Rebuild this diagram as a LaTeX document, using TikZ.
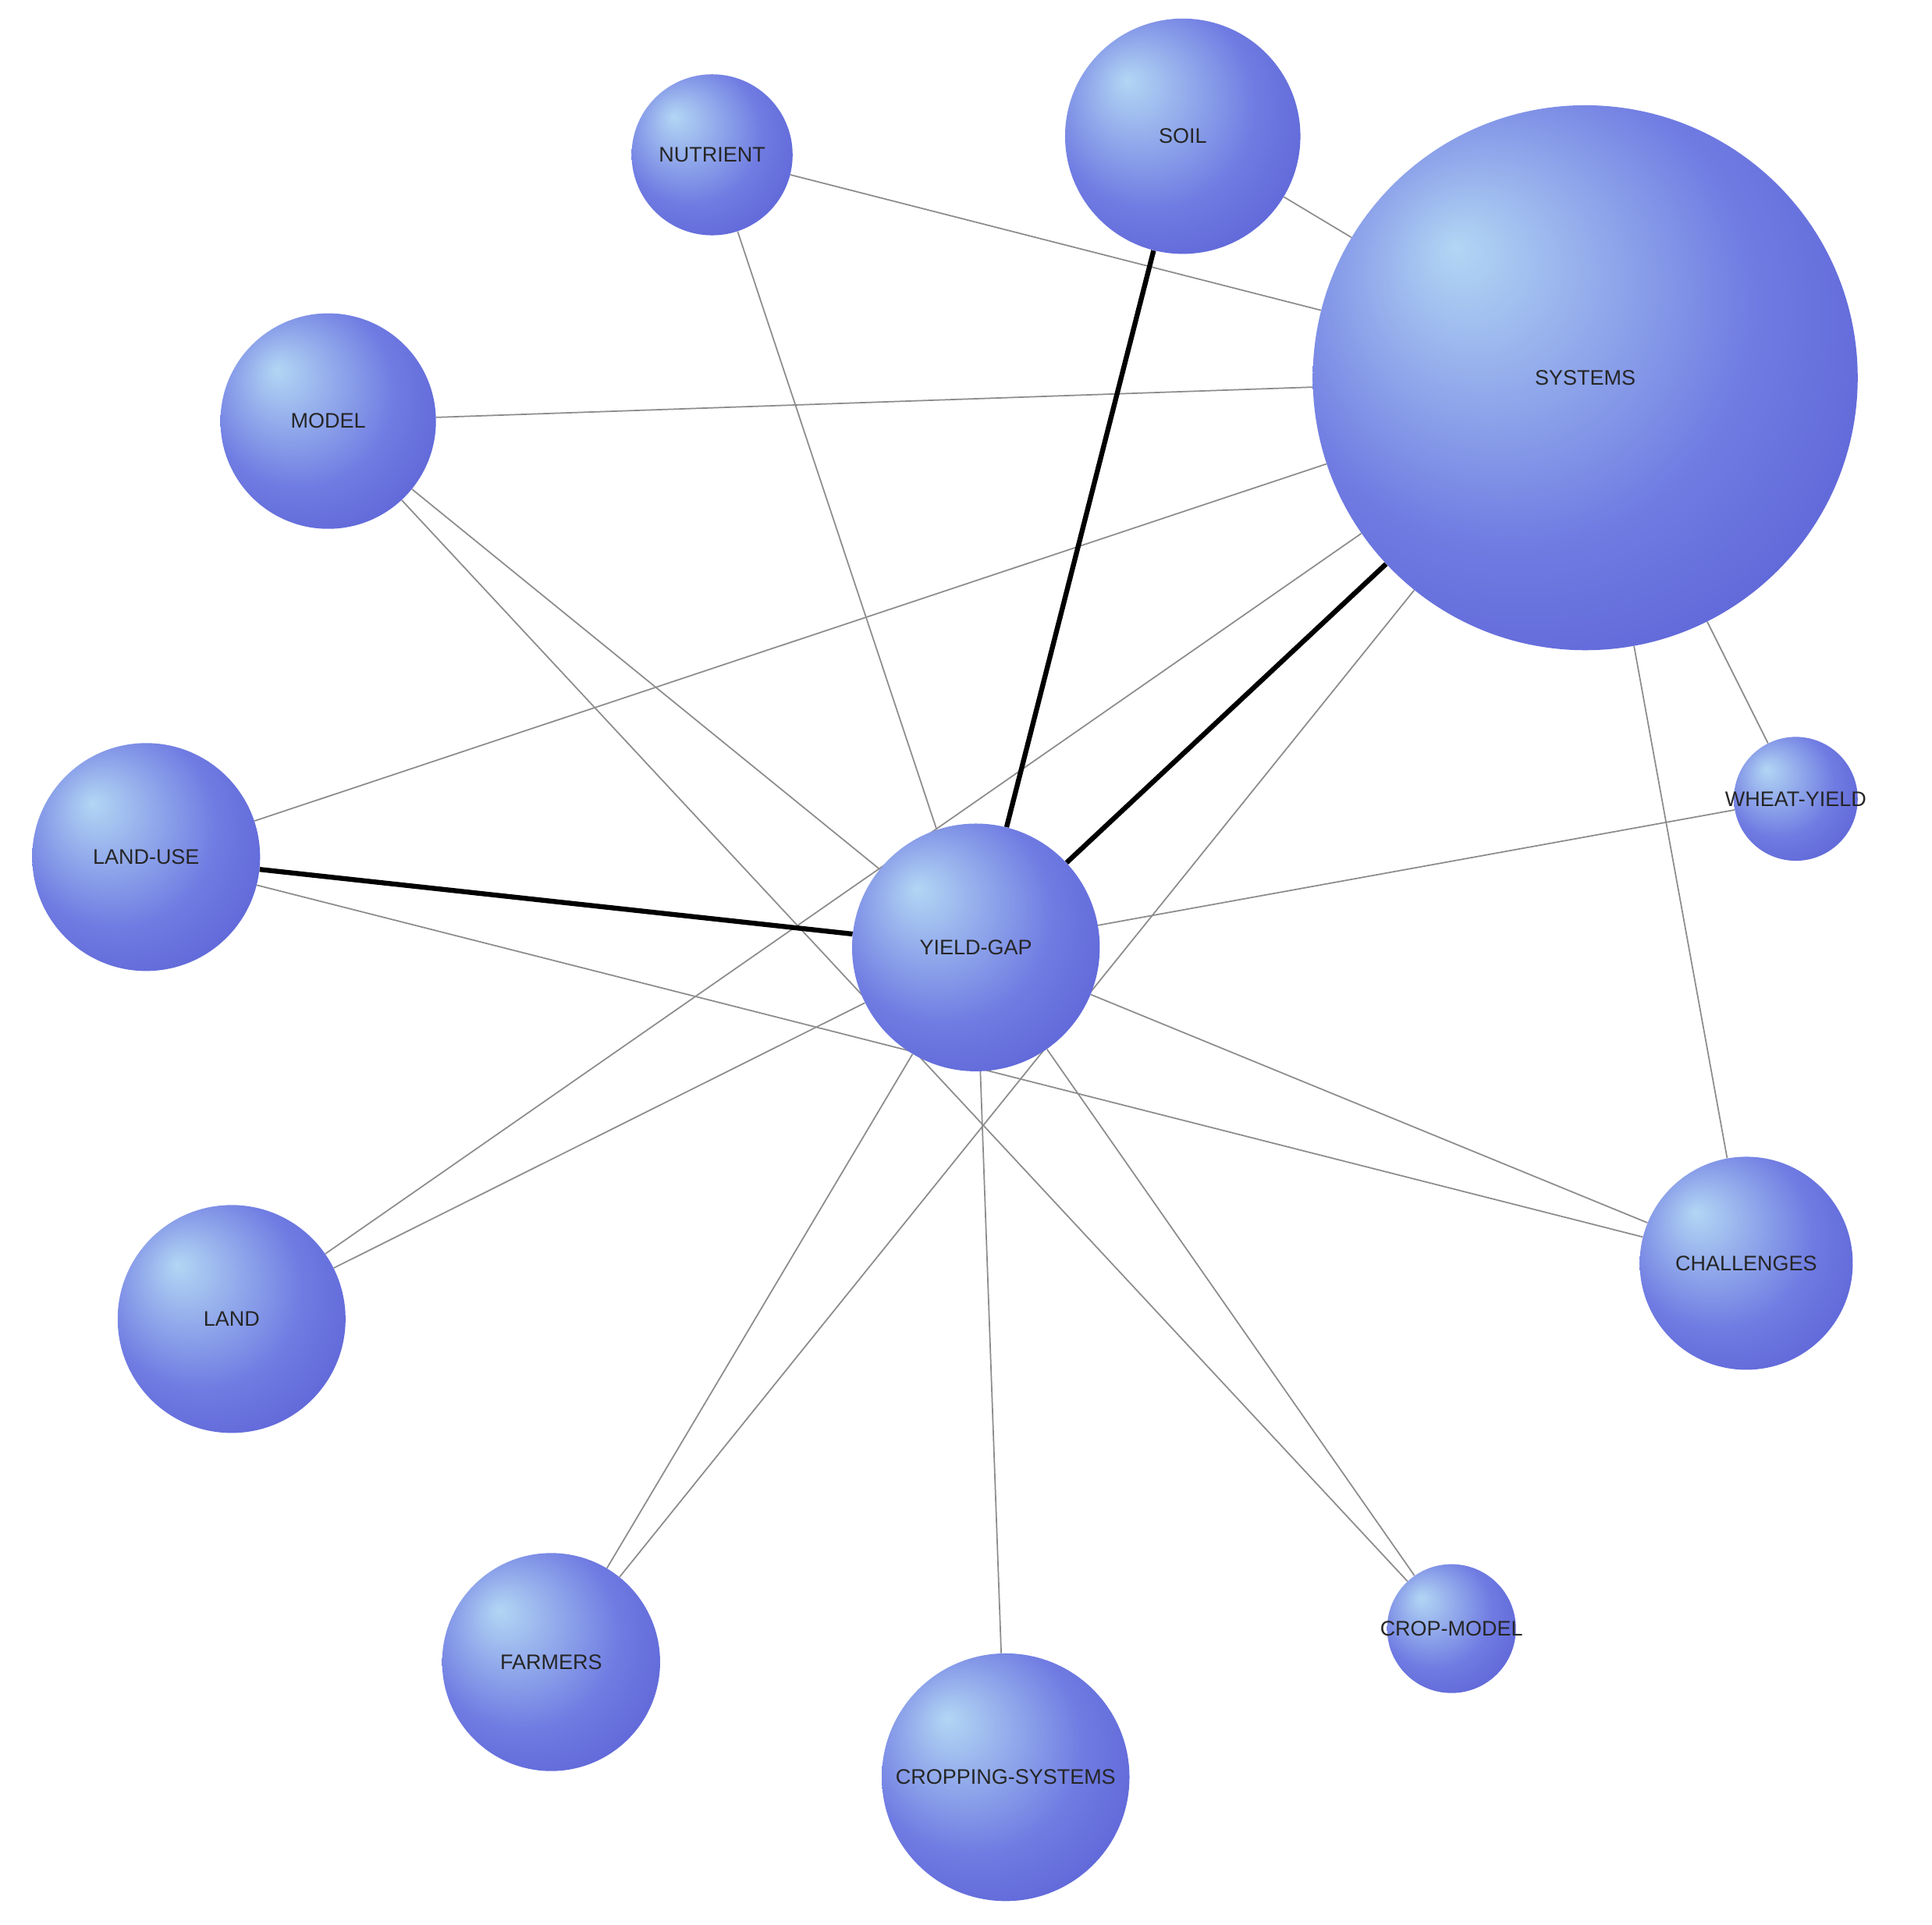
\documentclass[tikz,border=0pt]{standalone}
\usepackage{fontspec}
\setmainfont{Liberation Sans}
\usetikzlibrary{backgrounds}
\definecolor{orbA}{RGB}{178,214,244}
\definecolor{orbB}{RGB}{112,124,226}
\definecolor{orbC}{RGB}{70,70,200}
\pgfdeclareradialshading{orb}{\pgfpoint{-12bp}{12bp}}{color(0bp)=(orbA); color(22bp)=(orbB); color(50bp)=(orbC)}
\begin{document}
\begin{tikzpicture}
        [x=1pt,y=-1pt,
        orb/.style={circle,shading=orb,inner sep=0pt,minimum size=#1,
            label={[font=\fontsize{17}{17}\selectfont,text=black!85]center:\orbtext}},
        thin edge/.style={draw=black!45,line width=1.1pt},
        thick edge/.style={draw=black,line width=4pt},
        ]
        \useasboundingbox (0,0) rectangle (1560,1554);
        \def\orbtext{NUTRIENT}\node[orb=130pt] (nutrient) at (575,125) {};
        \def\orbtext{SOIL}\node[orb=190pt] (soil) at (955,110) {};
        \def\orbtext{SYSTEMS}\node[orb=440pt] (systems) at (1280,305) {};
        \def\orbtext{MODEL}\node[orb=174pt] (model) at (265,340) {};
        \def\orbtext{LAND-USE}\node[orb=184pt] (land-use) at (118,692) {};
        \def\orbtext{YIELD-GAP}\node[orb=200pt] (yield-gap) at (788,765) {};
        \def\orbtext{WHEAT-YIELD}\node[orb=100pt] (wheat-yield) at (1450,645) {};
        \def\orbtext{CHALLENGES}\node[orb=172pt] (challenges) at (1410,1020) {};
        \def\orbtext{LAND}\node[orb=184pt] (land) at (187,1065) {};
        \def\orbtext{FARMERS}\node[orb=176pt] (farmers) at (445,1342) {};
        \def\orbtext{CROPPING-SYSTEMS}\node[orb=200pt] (cropping-systems) at (812,1435) {};
        \def\orbtext{CROP-MODEL}\node[orb=104pt] (crop-model) at (1172,1315) {};
        \begin{scope}[on background layer]
        \foreach \a/\b in {nutrient/systems,nutrient/yield-gap,soil/systems,model/systems,
            model/yield-gap,model/crop-model,land-use/systems,land-use/challenges,
            systems/wheat-yield,systems/challenges,systems/land,systems/farmers,
            yield-gap/wheat-yield,yield-gap/challenges,yield-gap/land,yield-gap/farmers,
            yield-gap/cropping-systems,yield-gap/crop-model}
            \draw[thin edge] (\a) -- (\b);
        \foreach \a/\b in {soil/yield-gap,systems/yield-gap,land-use/yield-gap}
            \draw[thick edge] (\a) -- (\b);
        \end{scope}
    \end{tikzpicture}
\end{document}
